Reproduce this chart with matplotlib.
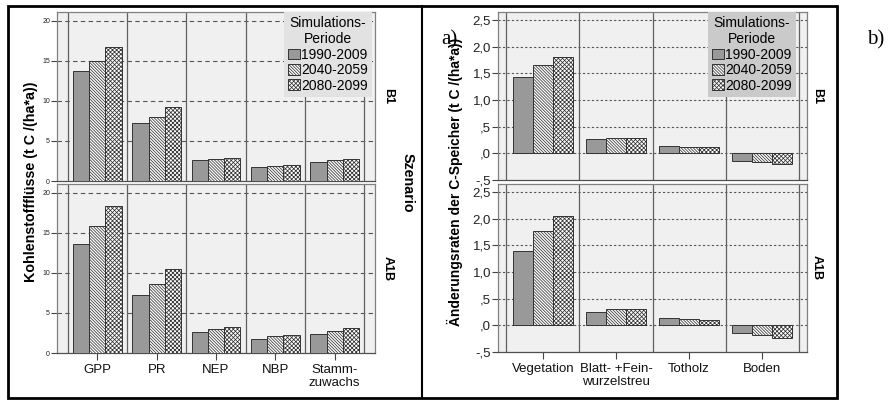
import matplotlib
matplotlib.use("Agg")
import matplotlib.pyplot as plt
from matplotlib.patches import Patch, Rectangle
from matplotlib.lines import Line2D
import numpy as np

# ---------------- data ----------------
periods = ["1990-2009", "2040-2059", "2080-2099"]

flux_categories = ["GPP", "PR", "NEP", "NBP", "Stamm-\nzuwachs"]
flux_B1_1990 = [13.7, 7.2, 2.6, 1.7, 2.4]
flux_B1_2040 = [15.0, 8.0, 2.8, 1.9, 2.6]
flux_B1_2080 = [16.7, 9.3, 2.9, 2.0, 2.8]
flux_A1B_1990 = [13.6, 7.2, 2.6, 1.7, 2.4]
flux_A1B_2040 = [15.8, 8.6, 3.0, 2.1, 2.8]
flux_A1B_2080 = [18.3, 10.5, 3.2, 2.2, 3.1]
flux_yticks = [0, 5, 10, 15, 20]
flux_yticklabels = ["0", "5", "10", "15", "20"]

store_categories = ["Vegetation", "Blatt- +Fein-\nwurzelstreu", "Totholz", "Boden"]
store_B1_1990 = [1.44, 0.26, 0.14, -0.14]
store_B1_2040 = [1.65, 0.29, 0.12, -0.17]
store_B1_2080 = [1.81, 0.28, 0.12, -0.20]
store_A1B_1990 = [1.39, 0.25, 0.14, -0.15]
store_A1B_2040 = [1.77, 0.30, 0.12, -0.18]
store_A1B_2080 = [2.05, 0.30, 0.10, -0.23]
store_yticks = [-0.5, 0.0, 0.5, 1.0, 1.5, 2.0, 2.5]
store_yticklabels = ["-,5", ",0", ",5", "1,0", "1,5", "2,0", "2,5"]

scenarios = ["B1", "A1B"]

# ---------------- style ----------------
plt.rcParams['font.family'] = ['Liberation Sans', 'DejaVu Sans']
plt.rcParams['hatch.linewidth'] = 0.55

W, H = 890, 400
fig = plt.figure(figsize=(W / 100, H / 100), dpi=100)
fig.patch.set_facecolor("white")


def rect(x0, y0, x1, y1):
    return [x0 / W, 1 - y1 / H, (x1 - x0) / W, (y1 - y0) / H]


def fxy(x, y):
    return (x / W, 1 - y / H)


bar_faces = ["#999999", "white", "white"]
bar_hatches = [None, "\\" * 11, "x" * 8]
edge_col = "#333333"
bg_col = "#f0f0f0"
frame_col = "#808080"
sep_col = "#606060"


def draw_panel(ax, cats, series, ylim, yticks, yticklabels, xlim, dash,
               tick_fs, bottom, grid_lo):
    n = len(cats)
    x = np.arange(n)
    ax.set_facecolor(bg_col)
    ax.set_xlim(*xlim)
    ax.set_ylim(*ylim)
    for s in ax.spines.values():
        s.set_color(frame_col)
        s.set_linewidth(0.9)
    ax.spines['bottom'].set_color("#505050")
    for t in yticks:
        if t > grid_lo:
            ax.axhline(t, color="#555555", lw=0.8, ls=(0, dash), zorder=1)
    for k in range(n + 1):
        ax.axvline(k - 0.5, color=sep_col, lw=0.9, zorder=1)
    w = 0.272
    for i, vals in enumerate(series):
        ax.bar(x + (i - 1) * w, vals, width=w, color=bar_faces[i],
               edgecolor=edge_col, hatch=bar_hatches[i], lw=0.7, zorder=3)
    ax.set_yticks(yticks)
    ax.set_yticklabels(yticklabels, fontsize=tick_fs, color="#222222")
    ax.tick_params(axis='y', length=4, color="#444444", pad=1)
    if bottom:
        ax.set_xticks(x)
        ax.set_xticklabels(cats, fontsize=9.5, color="#111111", linespacing=1.15)
        ax.tick_params(axis='x', length=5, color="#444444", pad=3)
    else:
        ax.set_xticks([])


def add_legend(ax, anchor, face):
    handles = [Patch(facecolor=bar_faces[i], edgecolor=edge_col,
                     hatch=bar_hatches[i], lw=0.7) for i in range(3)]
    leg = ax.legend(handles, periods, title="Simulations-\nPeriode",
                    loc="upper right", bbox_to_anchor=anchor,
                    borderaxespad=0, fontsize=10, title_fontsize=10,
                    frameon=True, fancybox=False, framealpha=1,
                    facecolor=face, edgecolor="none",
                    handlelength=0.8, handleheight=0.8, handletextpad=0.1,
                    labelspacing=0.1, borderpad=0.3)
    leg.get_title().set_multialignment('center')
    leg.set_zorder(10)


# ---- left panel: fluxes ----
flux_series = [[flux_B1_1990, flux_B1_2040, flux_B1_2080],
               [flux_A1B_1990, flux_A1B_2040, flux_A1B_2080]]
lx0, lx1 = 57, 375
rows = [(12, 181), (184, 353)]
for r, (y0, y1) in enumerate(rows):
    ax = fig.add_axes(rect(lx0, y0, lx1, y1))
    draw_panel(ax, flux_categories, flux_series[r], (0, 21.1), flux_yticks,
               flux_yticklabels, (-0.68, 4.68), (4, 3), 5, r == 1, 0.1)
    if r == 0:
        add_legend(ax, (0.99, 1.0), "#e2e2e2")
    fig.text(*fxy(388, (y0 + y1) / 2), scenarios[r], rotation=-90,
             ha="center", va="center", fontsize=9, fontweight="bold")

fig.text(*fxy(31, 182), "Kohlenstoffflüsse (t C /(ha*a))", rotation=90,
         ha="center", va="center", fontsize=10.3, fontweight="bold")
fig.text(*fxy(408, 183), "Szenario", rotation=-90, ha="center", va="center",
         fontsize=10.3, fontweight="bold")

# ---- right panel: storage change ----
store_series = [[store_B1_1990, store_B1_2040, store_B1_2080],
                [store_A1B_1990, store_A1B_2040, store_A1B_2080]]
rx0, rx1 = 498, 807
rows_r = [(12, 180), (184, 352)]
for r, (y0, y1) in enumerate(rows_r):
    ax = fig.add_axes(rect(rx0, y0, rx1, y1))
    draw_panel(ax, store_categories, store_series[r], (-0.5, 2.65),
               store_yticks, store_yticklabels, (-0.615, 3.615), (2, 2),
               9.5, r == 1, -0.49)
    if r == 0:
        add_legend(ax, (0.964, 1.0), "#cacaca")
    fig.text(*fxy(817, (y0 + y1) / 2), scenarios[r], rotation=-90,
             ha="center", va="center", fontsize=9, fontweight="bold")

fig.text(*fxy(455, 182), "Änderungsraten der C-Speicher (t C /(ha*a))",
         rotation=90, ha="center", va="center", fontsize=10, fontweight="bold")

# ---- panel letters ----
fig.text(*fxy(441, 44), "a)", ha="left", va="baseline", fontsize=15,
         family="Liberation Serif")
fig.text(*fxy(867, 44), "b)", ha="left", va="baseline", fontsize=15,
         family="Liberation Serif")

# ---- outer frames ----
fig.add_artist(Rectangle(fxy(8, 398), (837 - 8) / W, (398 - 6) / H,
                         transform=fig.transFigure, fill=False,
                         edgecolor="black", lw=2))
fig.add_artist(Line2D([422 / W, 422 / W], [1 - 398 / H, 1 - 6 / H],
                      transform=fig.transFigure, color="black", lw=1.5))

fig.savefig("out.png", dpi=100)
